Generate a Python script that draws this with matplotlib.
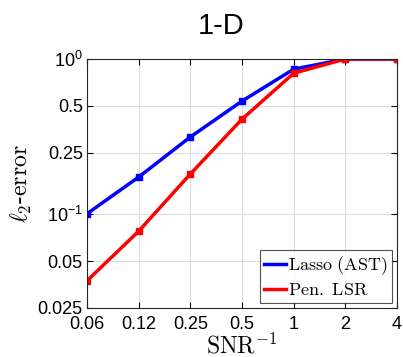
import numpy as np
import matplotlib
matplotlib.use('Agg')
import matplotlib.pyplot as plt
from matplotlib.ticker import FixedLocator, NullLocator

plt.rcParams['font.family'] = ['Liberation Sans', 'DejaVu Sans']
plt.rcParams['mathtext.fontset'] = 'cm'

# 数据
snr_inv = [1/16, 1/8, 1/4, 1/2, 1, 2, 4]
tick_labels = ['0.06', '0.12', '0.25', '0.5', '1', '2', '4']
lasso_err = [0.101, 0.174, 0.315, 0.536, 0.86, 1.0, 1.0]
pen_lsr_err = [0.0374, 0.078, 0.182, 0.41, 0.81, 1.0, 1.0]
y_ticks = [0.025, 0.05, 0.1, 0.25, 0.5, 1.0]
y_labels = ['0.025', '0.05', r'$\mathregular{10^{-1}}$', '0.25', '0.5', r'$\mathregular{10^{0}}$']

fig = plt.figure(figsize=(4.03, 3.57), dpi=100)
ax = fig.add_axes([87/403, 1 - 308/357, 310/403, 249/357])

ax.plot(snr_inv, lasso_err, '-s', color='blue', lw=2.5, ms=4,
        label=r'$\mathrm{Lasso\ (AST)}$')
ax.plot(snr_inv, pen_lsr_err, '-s', color='red', lw=2.5, ms=4,
        label=r'$\mathrm{Pen.\ LSR}$')

ax.set_xscale('log', base=2)
ax.set_yscale('log')
ax.set_xlim(1/16, 4)
ax.set_ylim(0.025, 1.0)
ax.xaxis.set_major_locator(FixedLocator(snr_inv))
ax.xaxis.set_minor_locator(NullLocator())
ax.set_xticklabels(tick_labels)
ax.yaxis.set_major_locator(FixedLocator(y_ticks))
ax.yaxis.set_minor_locator(NullLocator())
ax.set_yticklabels(y_labels)

ax.tick_params(direction='in', top=True, right=True, labelsize=13, length=4)
ax.tick_params(axis='x', pad=6)
ax.tick_params(axis='y', pad=3)
ax.grid(True, color='#dcdcdc', lw=0.8)
ax.set_axisbelow(True)
for s in ax.spines.values():
    s.set_color('#262626')

ax.set_xlabel(r'$\mathrm{SNR}^{-1}$', fontsize=17, labelpad=0)
ax.set_ylabel(r'$\ell_2\mathrm{\text{-}error}$', fontsize=17, labelpad=3)
ax.set_title('1-D', fontsize=21, x=0.432, pad=18)

leg = ax.legend(loc='lower right', prop={'size': 13},
                fancybox=False, edgecolor='#262626', borderaxespad=0.3,
                handlelength=1.2, handletextpad=0.15, borderpad=0.2,
                labelspacing=0.3, handleheight=0.5)
for h in leg.get_lines():
    h.set_marker('')
leg.get_frame().set_linewidth(0.8)

fig.savefig('out.png', dpi=100)
